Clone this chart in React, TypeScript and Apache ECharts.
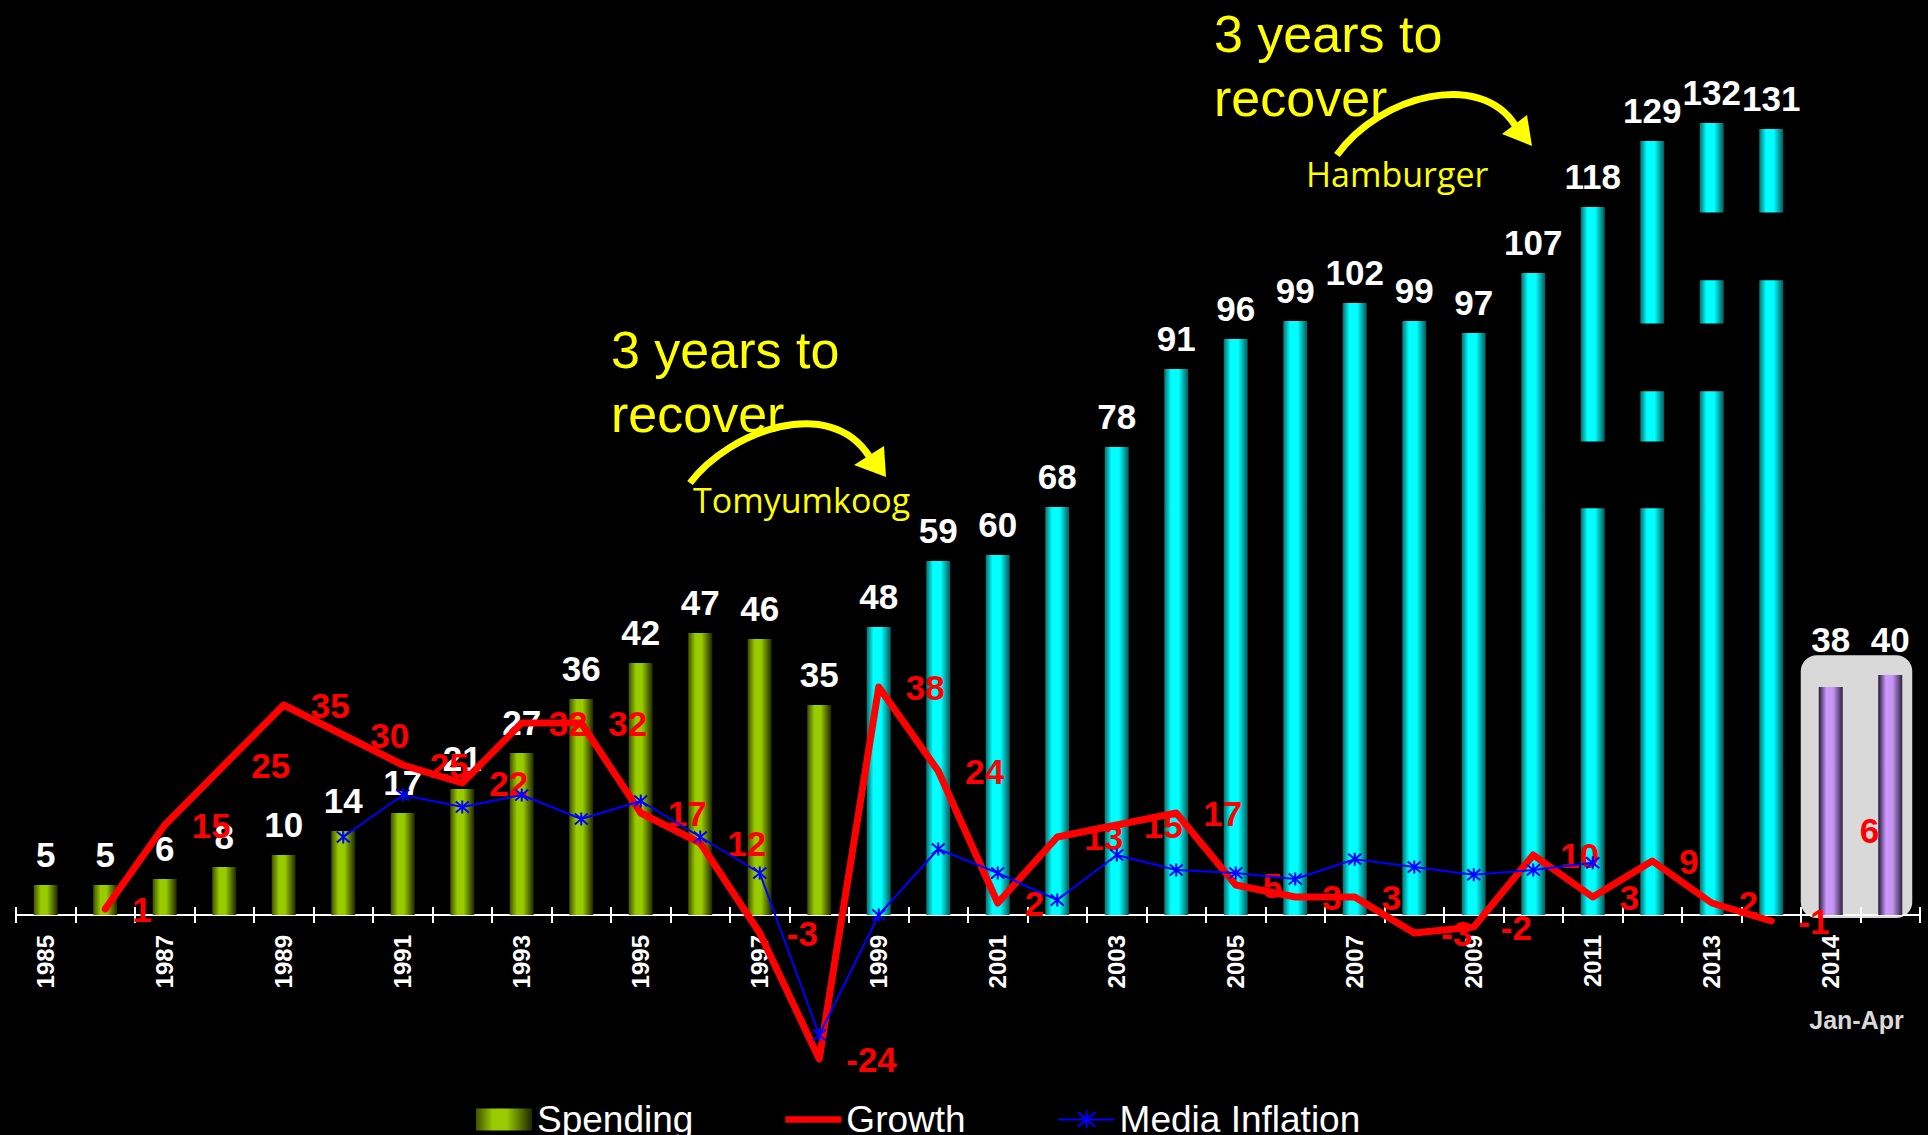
import React, { useEffect, useRef } from "react";
import * as echarts from "echarts";

// ---------- data ----------
const categories = [
  "1985", "1986", "1987", "1988", "1989", "1990", "1991", "1992", "1993", "1994",
  "1995", "1996", "1997", "1998", "1999", "2000", "2001", "2002", "2003", "2004",
  "2005", "2006", "2007", "2008", "2009", "2010", "2011", "2012", "2013", "2014F",
  "2014", "2014 Jan-Apr",
];

const spending = [
  5, 5, 6, 8, 10, 14, 17, 21, 27, 36,
  42, 47, 46, 35, 48, 59, 60, 68, 78, 91,
  96, 99, 102, 99, 97, 107, 118, 129, 132, 131,
  38, 40,
];

const growth: (number | null)[] = [
  null, 1, 15, 25, 35, 30, 25, 22, 32, 32,
  17, 12, -3, -24, 38, 24, 2, 13, 15, 17,
  5, 3, 3, -3, -2, 10, 3, 9, 2, -1,
  null, 6,
];

const mediaInflation: (number | null)[] = [
  null, null, null, null, null, 13, 20, 18, 20, 16,
  19, 13, 7, -20, 0, 11, 7, 2.5, 10, 7.5,
  7, 6, 9.3, 8, 6.7, 7.5, 8.7, null, null, null,
  null, null,
];

// annotation boxes (black) that cut through bars: [fromIndex, toIndex, topValue, bottomValue]
const maskBoxes = [
  [28, 29, 117.1, 105.8],
  [27, 28, 98.6, 87.3],
  [26, 27, 78.9, 67.8],
];

// ---------- styles ----------
const FONT = '"Liberation Sans", Arial, Helvetica, sans-serif';
const lin = (stops: [number, string][]) =>
  new echarts.graphic.LinearGradient(0, 0, 1, 0, stops.map(([offset, color]) => ({ offset, color })));

const GREEN = lin([[0, "#3f5000"], [0.3, "#99cc00"], [0.55, "#99cc00"], [1, "#1e2600"]]);
const CYAN = lin([[0, "#0b6e6e"], [0.28, "#00ffff"], [0.6, "#00ffff"], [1, "#085858"]]);
const PURPLE = lin([[0, "#251a33"], [0.32, "#cc99ff"], [0.6, "#c494f2"], [1, "#2e2240"]]);

const barColor = (i: number) => (i < 14 ? GREEN : i < 30 ? CYAN : PURPLE);
const ASTERISK = "path://M0,0L10,10M10,0L0,10M5,-1L5,11";

export default function App() {
  const ref = useRef<HTMLDivElement>(null);

  useEffect(() => {
    if (!ref.current) return;
    const chart = echarts.init(ref.current, null, { renderer: "svg" });

    const spendingData = spending.map((v, i) => {
      const item: any = { value: v, itemStyle: { color: barColor(i) } };
      if (i === 30) item.label = { offset: [0, -17] };
      if (i === 31) item.label = { offset: [0, -5] };
      return item;
    });

    const growthData = growth.map((v, i) => {
      if (i === 31) {
        return {
          value: v,
          symbolSize: 0,
          label: { position: "left", distance: 2, offset: [-9, -49] },
        };
      }
      return v;
    });

    const tickStyle = { color: "#ffffff", width: 2 };

    chart.setOption({
      animation: false,
      backgroundColor: "#000000",
      textStyle: { fontFamily: FONT },
      grid: { left: 16, right: 8, top: 75, bottom: 220, containLabel: false, outerBoundsMode: "none" },
      legend: {
        left: 471,
        top: 1096,
        itemWidth: 56,
        itemHeight: 22,
        itemGap: 92,
        textStyle: { color: "#ffffff", fontSize: 37, fontFamily: FONT },
        data: [
          { name: "Spending", icon: "rect" },
          { name: "Growth", icon: "path://M0,0H60V7H0Z" },
          { name: "Media Inflation" },
        ],
      },
      xAxis: [
        {
          type: "category",
          data: categories,
          position: "bottom",
          boundaryGap: true,
          axisLine: { onZero: false, lineStyle: tickStyle },
          axisTick: { show: true, interval: 0, length: 8, lineStyle: tickStyle },
          axisLabel: {
            interval: 1,
            rotate: 90,
            color: "#ffffff",
            fontWeight: "bold",
            fontSize: 24,
            fontFamily: FONT,
            margin: 20,
          },
        },
        {
          type: "category",
          data: categories,
          position: "bottom",
          boundaryGap: true,
          axisLine: { show: false, onZero: false },
          axisTick: { show: true, inside: true, interval: 0, length: 8, lineStyle: tickStyle },
          axisLabel: { show: false },
        },
      ],
      yAxis: { type: "value", min: 0, max: 140, show: false },
      series: [
        {
          name: "Spending",
          type: "bar",
          barWidth: 24,
          itemStyle: { color: GREEN },
          label: {
            show: true,
            position: "top",
            distance: 13,
            color: "#ffffff",
            fontWeight: "bold",
            fontSize: 35,
            fontFamily: FONT,
          },
          data: spendingData,
          z: 2,
        },
        {
          name: "Growth",
          type: "line",
          data: growthData,
          connectNulls: false,
          clip: false,
          symbol: "circle",
          symbolSize: 4,
          itemStyle: { color: "#ff0000" },
          lineStyle: { color: "#ff0000", width: 7, join: "round", cap: "round" },
          label: {
            show: true,
            position: "right",
            distance: 25,
            color: "#ff0000",
            fontWeight: "bold",
            fontSize: 35,
            fontFamily: FONT,
          },
          z: 3,
        },
        {
          name: "Media Inflation",
          type: "line",
          data: mediaInflation,
          connectNulls: false,
          clip: false,
          symbol: ASTERISK,
          symbolSize: 13,
          itemStyle: { color: "#0000ff", borderColor: "#0000ff", borderWidth: 2 },
          lineStyle: { color: "#0000ff", width: 2 },
          z: 4,
        },
      ],
    });

    const px = (i: number, v: number) => chart.convertToPixel({ gridIndex: 0 }, [i, v]) as number[];

    const graphics: any[] = [];

    // light grey box behind the Jan-Apr bars
    const a = px(30, 43.3);
    const b = px(31, -0.5);
    graphics.push({
      type: "rect",
      z: -1,
      shape: { x: a[0] - 30, y: a[1], width: b[0] + 22 - (a[0] - 30), height: b[1] - a[1], r: 16 },
      style: { fill: "#d9d9d9" },
    });

    // black boxes that interrupt the tall bars
    maskBoxes.forEach(([f, t, top, bot]) => {
      const p1 = px(f, top);
      const p2 = px(t, bot);
      graphics.push({
        type: "rect",
        z: 5,
        shape: { x: p1[0] - 18, y: p1[1], width: p2[0] + 18 - (p1[0] - 18), height: p2[1] - p1[1] },
        style: { fill: "#000000" },
      });
    });

    const yellow = "#ffff00";
    // arrows
    graphics.push({
      type: "bezierCurve",
      z: 10,
      shape: { x1: 690, y1: 483, cpx1: 730, cpy1: 430, cpx2: 830, cpy2: 395, x2: 869, y2: 456 },
      style: { stroke: yellow, lineWidth: 7, fill: "none" },
    });
    graphics.push({
      type: "polygon",
      z: 10,
      shape: { points: [[854, 465], [884, 446], [886, 477]] },
      style: { fill: yellow },
    });
    graphics.push({
      type: "bezierCurve",
      z: 10,
      shape: { x1: 1337, y1: 155, cpx1: 1380, cpy1: 95, cpx2: 1480, cpy2: 70, x2: 1515, y2: 125 },
      style: { stroke: yellow, lineWidth: 7, fill: "none" },
    });
    graphics.push({
      type: "polygon",
      z: 10,
      shape: { points: [[1502, 134], [1527, 115], [1532, 146]] },
      style: { fill: yellow },
    });

    // texts
    graphics.push({
      type: "text",
      z: 11,
      x: 611,
      y: 318,
      style: { text: "3 years to\nrecover", fill: yellow, fontSize: 52, fontFamily: FONT, lineHeight: 64, verticalAlign: "top" },
    });
    graphics.push({
      type: "text",
      z: 11,
      x: 1214,
      y: 2,
      style: { text: "3 years to\nrecover", fill: yellow, fontSize: 52, fontFamily: FONT, lineHeight: 64, verticalAlign: "top" },
    });
    graphics.push({
      type: "text",
      z: 11,
      x: 693,
      y: 500,
      style: { text: "Tomyumkoog", fill: yellow, fontSize: 34, fontFamily: '"Open Sans", "Noto Sans", sans-serif', verticalAlign: "middle" },
    });
    graphics.push({
      type: "text",
      z: 11,
      x: 1306,
      y: 174,
      style: { text: "Hamburger", fill: yellow, fontSize: 34, fontFamily: '"Open Sans", "Noto Sans", sans-serif', verticalAlign: "middle" },
    });
    const j = px(30, 0);
    const k = px(31, 0);
    graphics.push({
      type: "text",
      z: 11,
      x: (j[0] + k[0]) / 2 - 4,
      y: 1020,
      style: { text: "Jan-Apr", fill: "#d9d9d9", fontSize: 25, fontWeight: "bold", fontFamily: FONT, align: "center", verticalAlign: "middle" },
    });

    chart.setOption({ graphic: graphics });

    return () => chart.dispose();
  }, []);

  return (
    <div
      ref={ref}
      style={{ position: "fixed", left: 0, top: 0, width: 1928, height: 1135, background: "#000" }}
    />
  );
}
